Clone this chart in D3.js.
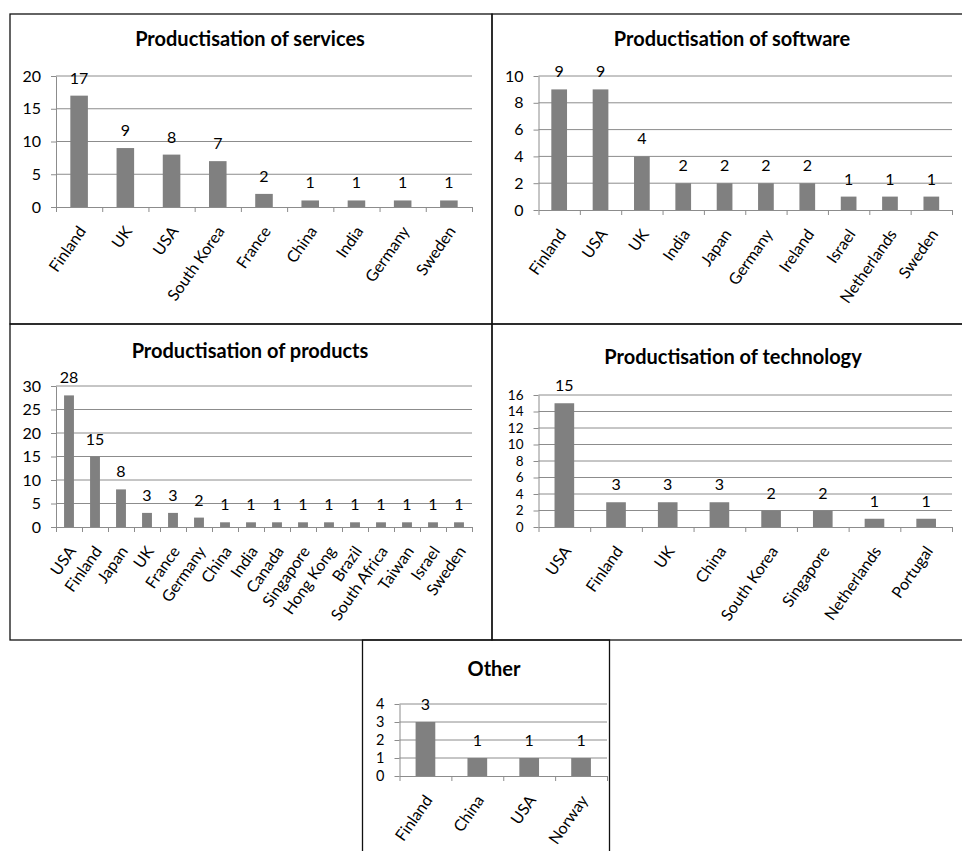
<!DOCTYPE html>
<html>
<head>
<meta charset="utf-8">
<script src="https://cdn.jsdelivr.net/npm/d3@7"></script>
<style>
  html, body { margin: 0; padding: 0; background: #fff; }
  svg { display: block; }
</style>
</head>
<body>
<div id="chart"></div>
<script>
// data
const servicesCountries = ["Finland", "UK", "USA", "South Korea", "France", "China", "India", "Germany", "Sweden"];
const servicesValues = [17, 9, 8, 7, 2, 1, 1, 1, 1];
const servicesTicks = [0, 5, 10, 15, 20];

const softwareCountries = ["Finland", "USA", "UK", "India", "Japan", "Germany", "Ireland", "Israel", "Netherlands", "Sweden"];
const softwareValues = [9, 9, 4, 2, 2, 2, 2, 1, 1, 1];
const softwareTicks = [0, 2, 4, 6, 8, 10];

const productsCountries = ["USA", "Finland", "Japan", "UK", "France", "Germany", "China", "India", "Canada", "Singapore", "Hong Kong", "Brazil", "South Africa", "Taiwan", "Israel", "Sweden"];
const productsValues = [28, 15, 8, 3, 3, 2, 1, 1, 1, 1, 1, 1, 1, 1, 1, 1];
const productsTicks = [0, 5, 10, 15, 20, 25, 30];

const technologyCountries = ["USA", "Finland", "UK", "China", "South Korea", "Singapore", "Netherlands", "Portugal"];
const technologyValues = [15, 3, 3, 3, 2, 2, 1, 1];
const technologyTicks = [0, 2, 4, 6, 8, 10, 12, 14, 16];

const otherCountries = ["Finland", "China", "USA", "Norway"];
const otherValues = [3, 1, 1, 1];
const otherTicks = [0, 1, 2, 3, 4];

const fontFamily = "Lato, 'Open Sans', sans-serif";
const labelSize = 16;
const titleSize = 20;
const barColor = "#808080";
const gridColor = "#8c8c8c";

const width = 962;
const height = 851;

const svg = d3.select("#chart")
  .append("svg")
  .attr("width", width)
  .attr("height", height)
  .style("font-family", fontFamily);

// layout of each panel (frame, plot area, title); tickSize = y label font size
const charts = [
  { title: "Productisation of services", categories: servicesCountries, values: servicesValues, ticks: servicesTicks,
    frame: [10, 14, 482, 310], plot: { left: 56, right: 472, top: 76, bottom: 207 }, titlePos: [250, 46], tickSize: 16 },
  { title: "Productisation of software", categories: softwareCountries, values: softwareValues, ticks: softwareTicks,
    frame: [492, 14, 480, 310], plot: { left: 538.5, right: 952, top: 76, bottom: 210 }, titlePos: [732, 46], tickSize: 16 },
  { title: "Productisation of products", categories: productsCountries, values: productsValues, ticks: productsTicks,
    frame: [10, 324, 482, 316], plot: { left: 56, right: 472, top: 386, bottom: 527 }, titlePos: [250, 358], tickSize: 16 },
  { title: "Productisation of technology", categories: technologyCountries, values: technologyValues, ticks: technologyTicks,
    frame: [492, 324, 480, 316], plot: { left: 538.5, right: 952, top: 395, bottom: 527 }, titlePos: [733, 364], tickSize: 13.5 },
  { title: "Other", categories: otherCountries, values: otherValues, ticks: otherTicks,
    frame: [362.5, 640, 247, 230], plot: { left: 399.5, right: 607, top: 704, bottom: 776 }, titlePos: [494, 676], tickSize: 14.5 },
];

// frames first so the panels share their edges
charts.forEach((c) => {
  svg.append("rect")
    .attr("x", c.frame[0])
    .attr("y", c.frame[1])
    .attr("width", c.frame[2])
    .attr("height", c.frame[3])
    .attr("fill", "none")
    .attr("stroke", "#111")
    .attr("stroke-width", 1.3);
});

charts.forEach(drawChart);

function drawChart(c) {
  const p = c.plot;
  const g = svg.append("g");
  const n = c.categories.length;

  const x = d3.scaleBand().domain(c.categories).range([p.left, p.right]);
  const xEdges = d3.scaleLinear().domain([0, n]).range([p.left, p.right]);
  const y = d3.scaleLinear().domain([0, d3.max(c.ticks)]).range([p.bottom, p.top]);

  // horizontal gridlines
  g.append("g")
    .selectAll("line")
    .data(c.ticks.filter((t) => t > 0))
    .join("line")
    .attr("x1", p.left)
    .attr("x2", p.right)
    .attr("y1", (d) => y(d))
    .attr("y2", (d) => y(d))
    .attr("stroke", gridColor)
    .attr("stroke-width", 1);

  // y axis
  const yAxis = g.append("g")
    .attr("transform", `translate(${p.left},0)`)
    .call(d3.axisLeft(y).tickValues(c.ticks).tickFormat(d3.format("d"))
      .tickSize(5).tickSizeOuter(0).tickPadding(10))
    .attr("font-family", null)
    .attr("font-size", c.tickSize);
  yAxis.select(".domain").attr("stroke", gridColor);
  yAxis.selectAll(".tick line").attr("stroke", gridColor);
  yAxis.selectAll(".tick text").attr("fill", "#000");

  // x axis, tick marks between categories
  const xAxis = g.append("g")
    .attr("transform", `translate(0,${p.bottom})`)
    .call(d3.axisBottom(xEdges).tickValues(d3.range(n + 1)).tickSize(5).tickSizeOuter(0).tickFormat(""));
  xAxis.select(".domain").attr("stroke", gridColor);
  xAxis.selectAll(".tick line").attr("stroke", gridColor);

  // bars
  const barRatio = 0.38;
  const bw = x.bandwidth() * barRatio;
  g.append("g")
    .selectAll("rect")
    .data(c.values)
    .join("rect")
    .attr("x", (d, i) => x(c.categories[i]) + (x.bandwidth() - bw) / 2)
    .attr("y", (d) => y(d))
    .attr("width", bw)
    .attr("height", (d) => y(0) - y(d))
    .attr("fill", barColor);

  // value labels
  g.append("g")
    .selectAll("text")
    .data(c.values)
    .join("text")
    .attr("x", (d, i) => x(c.categories[i]) + x.bandwidth() / 2)
    .attr("y", (d) => y(d) - 12)
    .attr("text-anchor", "middle")
    .attr("font-size", labelSize)
    .text((d) => d);

  // rotated category labels
  g.append("g")
    .selectAll("text")
    .data(c.categories)
    .join("text")
    .attr("transform", (d) => `translate(${x(d) + x.bandwidth() / 2 + 3},${p.bottom + 21}) rotate(-55)`)
    .attr("text-anchor", "end")
    .attr("dy", "0.35em")
    .attr("font-size", labelSize)
    .text((d) => d);

  // title
  g.append("text")
    .attr("x", c.titlePos[0])
    .attr("y", c.titlePos[1])
    .attr("text-anchor", "middle")
    .attr("font-size", titleSize)
    .attr("font-weight", "bold")
    .text(c.title);
}
</script>
</body>
</html>
